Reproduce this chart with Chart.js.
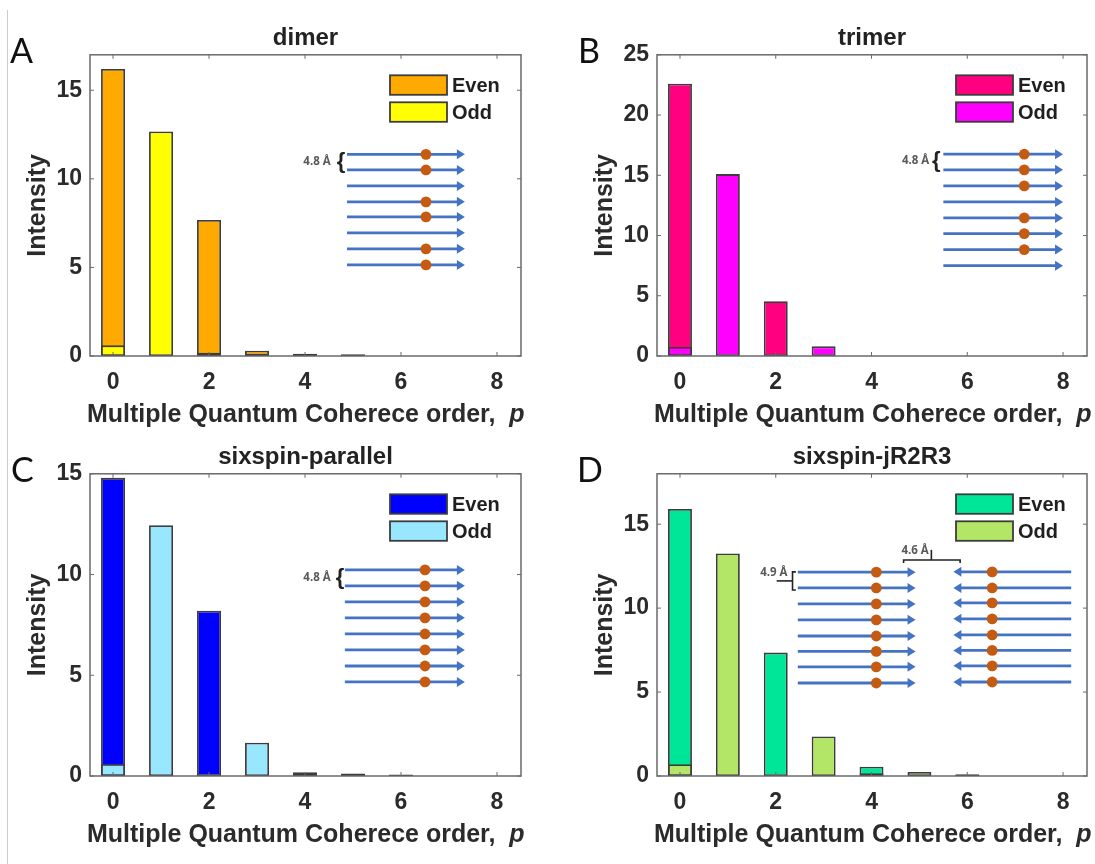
<!DOCTYPE html>
<html lang="en">

<head>
    <meta charset="UTF-8">
    <title>Multiple Quantum Coherence</title>
    <script src="https://cdn.jsdelivr.net/npm/chart.js"></script>
    <style>
        body { margin: 0; background: #fff; }
        #page { position: relative; width: 1095px; height: 864px; overflow: hidden; }
        #regua { position: absolute; left: 7px; top: 10px; width: 1px; bottom: 0; background: #ccc; }
        canvas { position: absolute; }
    </style>
</head>

<body>
    <div id="page">
        <div id="regua"></div>
        <canvas id="chartA" width="547" height="432" style="left:0;top:0"></canvas>
        <canvas id="chartB" width="548" height="432" style="left:547px;top:0"></canvas>
        <canvas id="chartC" width="547" height="433" style="left:0;top:419px"></canvas>
        <canvas id="chartD" width="548" height="433" style="left:547px;top:419px"></canvas>
    </div>

<script>
    // leitura dos valores
    const pOrders = [0, 1, 2, 3, 4, 5, 6, 7, 8];
    const xTicks = [0, 2, 4, 6, 8];

    const evenA = [16.2, null, 7.68, 0.3, 0.12, 0.1, null, null, null];
    const oddA = [0.6, 12.67, 0.18, 0.12, 0.03, 0.04, null, null, null];
    const yTicksA = [0, 5, 10, 15];

    const evenB = [22.6, null, 4.55, null, null, null, null, null, null];
    const oddB = [0.75, 15.1, 0.12, 0.8, null, null, null, null, null];
    const yTicksB = [0, 5, 10, 15, 20, 25];

    const evenC = [14.8, null, 8.2, null, 0.18, null, 0.08, null, null];
    const oddC = [0.6, 12.45, 0.02, 1.65, 0.1, 0.13, 0.02, null, null];
    const yTicksC = [0, 5, 10, 15];

    const evenD = [15.9, null, 7.35, null, 0.55, null, 0.11, null, null];
    const oddD = [0.7, 13.25, 0.03, 2.35, 0.17, 0.24, 0.02, null, null];
    const yTicksD = [0, 5, 10, 15];

    const corTexto = '#2b2b2b';
    const corBorda = '#3c3c3c';
    const corMoldura = '#6a6a6a';
    const corSeta = '#4472c4';
    const corPonto = '#c55a11';
    const tituloX = 'Multiple Quantum Coherece order,';

    function ponto(ctx, x, y) {
        ctx.fillStyle = corPonto;
        ctx.beginPath();
        ctx.arc(x, y, 5.4, 0, Math.PI * 2);
        ctx.fill();
    }

    function seta(ctx, x1, x2, y) {
        const dir = x2 > x1 ? 1 : -1;
        ctx.strokeStyle = corSeta;
        ctx.fillStyle = corSeta;
        ctx.lineWidth = 2.8;
        ctx.beginPath();
        ctx.moveTo(x1, y);
        ctx.lineTo(x2 - dir * 6, y);
        ctx.stroke();
        ctx.beginPath();
        ctx.moveTo(x2, y);
        ctx.lineTo(x2 - dir * 8, y - 5);
        ctx.lineTo(x2 - dir * 8, y + 5);
        ctx.closePath();
        ctx.fill();
    }

    // desenha o esquema das fitas usando as escalas do gráfico
    function desenharFitas(chart, fitas) {
        const ctx = chart.ctx;
        const sx = chart.scales.x;
        const sy = chart.scales.y;
        fitas.forEach((f) => {
            f.ys.forEach((v, i) => {
                const y = sy.getPixelForValue(v);
                seta(ctx, sx.getPixelForValue(f.de), sx.getPixelForValue(f.ate), y);
                if (f.pontos.includes(i)) {
                    ponto(ctx, sx.getPixelForValue(f.px), y);
                }
            });
        });
    }

    function rotulo(ctx, texto, x, y, fonte, cor) {
        ctx.font = fonte;
        ctx.fillStyle = cor;
        ctx.textAlign = 'center';
        ctx.textBaseline = 'middle';
        ctx.fillText(texto, x, y);
    }

    const painelPlugin = {
        id: 'painel',
        afterDatasetsDraw(chart, args, opts) {
            const ctx = chart.ctx;
            const a = chart.chartArea;
            const sx = chart.scales.x;
            const sy = chart.scales.y;
            ctx.save();

            // moldura e marcas para dentro (estilo matlab)
            ctx.strokeStyle = corMoldura;
            ctx.lineWidth = 1.5;
            ctx.strokeRect(a.left, a.top, a.right - a.left, a.bottom - a.top);
            ctx.lineWidth = 1;
            ctx.beginPath();
            xTicks.forEach((v) => {
                const x = sx.getPixelForValue(v);
                ctx.moveTo(x, a.bottom);
                ctx.lineTo(x, a.bottom - 4);
                ctx.moveTo(x, a.top);
                ctx.lineTo(x, a.top + 4);
            });
            opts.yTicks.forEach((v) => {
                const y = sy.getPixelForValue(v);
                ctx.moveTo(a.left, y);
                ctx.lineTo(a.left + 4, y);
                ctx.moveTo(a.right, y);
                ctx.lineTo(a.right - 4, y);
            });
            ctx.stroke();

            // legenda
            chart.data.datasets.forEach((ds, i) => {
                const topo = a.top + 20.5 + i * 27;
                const esq = a.right - 131;
                ctx.fillStyle = ds.backgroundColor;
                ctx.strokeStyle = corBorda;
                ctx.lineWidth = 1.8;
                ctx.fillRect(esq, topo, 57, 19.5);
                ctx.strokeRect(esq, topo, 57, 19.5);
                ctx.font = 'bold 20px "Liberation Sans"';
                ctx.fillStyle = '#1f1f1f';
                ctx.textAlign = 'left';
                ctx.textBaseline = 'middle';
                ctx.fillText(ds.label, esq + 62, topo + 11);
            });

            desenharFitas(chart, opts.fitas);

            // distâncias
            const fonteA = 'bold 11.5px "Open Sans"';
            opts.marcas.forEach((m) => {
                rotulo(ctx, m.texto, sx.getPixelForValue(m.x), sy.getPixelForValue(m.y), fonteA, '#595959');
            });
            if (opts.chave) {
                rotulo(ctx, '{', sx.getPixelForValue(opts.chave.x), sy.getPixelForValue(opts.chave.y), 'bold 22px "Liberation Sans"', '#222');
            }
            if (opts.linhas) {
                ctx.strokeStyle = '#222';
                ctx.lineWidth = 1.6;
                opts.linhas.forEach((l) => {
                    ctx.beginPath();
                    l.forEach((p, i) => {
                        const x = sx.getPixelForValue(p[0]);
                        const y = sy.getPixelForValue(p[1]);
                        if (i == 0) ctx.moveTo(x, y); else ctx.lineTo(x, y);
                    });
                    ctx.stroke();
                });
            }

            // letra do painel
            ctx.font = '34px Lato';
            ctx.fillStyle = '#111';
            ctx.textAlign = 'left';
            ctx.textBaseline = 'alphabetic';
            ctx.fillText(opts.letra, opts.letraX, 63);

            // título do eixo x, com o p em itálico
            ctx.fillStyle = corTexto;
            ctx.font = 'bold 25px "Liberation Sans"';
            const y = a.bottom + 66;
            ctx.fillText(tituloX, a.left - 3, y);
            const w = ctx.measureText(tituloX + '  ').width;
            ctx.font = 'italic bold 25px "Liberation Sans"';
            ctx.fillText('p', a.left - 3 + w, y);

            ctx.restore();
        }
    };

    function criarGrafico(id, titulo, even, odd, corEven, corOdd, yMax, yTicks, padEsq, padDir, extras) {
        return new Chart(document.getElementById(id), {
            type: 'bar',
            data: {
                datasets: [
                    {
                        label: 'Even',
                        order: 2,
                        data: pOrders.map((p, i) => ({ x: p, y: even[i] })),
                        backgroundColor: corEven,
                        borderColor: corBorda,
                        borderWidth: 1.8,
                        borderSkipped: false,
                        grouped: false,
                        categoryPercentage: 1,
                        barPercentage: 0.5
                    },
                    {
                        label: 'Odd',
                        order: 1,
                        data: pOrders.map((p, i) => ({ x: p, y: odd[i] })),
                        backgroundColor: corOdd,
                        borderColor: corBorda,
                        borderWidth: 1.8,
                        borderSkipped: false,
                        grouped: false,
                        categoryPercentage: 1,
                        barPercentage: 0.5
                    }
                ]
            },
            options: {
                responsive: false,
                animation: false,
                layout: { padding: { left: padEsq, right: padDir, top: 0, bottom: 0 } },
                plugins: {
                    legend: { display: false },
                    tooltip: { enabled: false },
                    title: {
                        display: true,
                        text: titulo,
                        fullSize: false,
                        color: '#222',
                        font: { family: '"Liberation Sans"', size: 24, weight: 'bold' },
                        padding: { top: 24, bottom: 2 }
                    },
                    painel: Object.assign({ yTicks: yTicks }, extras)
                },
                scales: {
                    x: {
                        type: 'linear',
                        min: -0.48,
                        max: 8.5,
                        offset: false,
                        afterBuildTicks: (s) => { s.ticks = xTicks.map((v) => ({ value: v })); },
                        afterFit: (s) => { s.height = 76; },
                        grid: { display: false, drawTicks: false, offset: false },
                        border: { display: false },
                        ticks: {
                            color: corTexto,
                            maxRotation: 0,
                            padding: 13,
                            font: { family: '"Liberation Sans"', size: 23, weight: 'bold' }
                        }
                    },
                    y: {
                        min: 0,
                        max: yMax,
                        afterBuildTicks: (s) => { s.ticks = yTicks.map((v) => ({ value: v })); },
                        afterFit: (s) => { s.width = 80; },
                        grid: { display: false, drawTicks: false },
                        border: { display: false },
                        ticks: {
                            color: corTexto,
                            padding: 8,
                            font: { family: '"Liberation Sans"', size: 23, weight: 'bold' }
                        },
                        title: {
                            display: true,
                            text: 'Intensity',
                            color: corTexto,
                            padding: { top: 13, bottom: 0 },
                            font: { family: '"Liberation Sans"', size: 25, weight: 'bold' }
                        }
                    }
                }
            },
            plugins: [painelPlugin]
        });
    }

    // esquemas das fitas, em unidades dos eixos
    const chartA = criarGrafico('chartA', 'dimer', evenA, oddA, '#ffaa00', '#ffff00', 17, yTicksA, 10, 26, {
        letra: 'A', letraX: 10,
        fitas: [{ de: 4.875, ate: 7.33, px: 6.52, pontos: [0, 1, 3, 4, 6, 7], ys: [11.38, 10.5, 9.6, 8.7, 7.85, 6.95, 6.05, 5.14] }],
        marcas: [{ texto: '4.8 Å', x: 4.25, y: 10.96 }],
        chave: { x: 4.75, y: 10.96 }
    });

    const chartB = criarGrafico('chartB', 'trimer', evenB, oddB, '#ff0080', '#ff00ff', 25, yTicksB, 30, 8, {
        letra: 'B', letraX: 31,
        fitas: [{ de: 5.5, ate: 8.0, px: 7.19, pontos: [0, 1, 2, 4, 5, 6], ys: [16.75, 15.45, 14.12, 12.79, 11.46, 10.16, 8.83, 7.5] }],
        marcas: [{ texto: '4.8 Å', x: 4.92, y: 16.2 }],
        chave: { x: 5.35, y: 16.2 }
    });

    const chartC = criarGrafico('chartC', 'sixspin-parallel', evenC, oddC, '#0000ff', '#99e6ff', 15, yTicksC, 10, 26, {
        letra: 'C', letraX: 11,
        fitas: [{ de: 4.83, ate: 7.33, px: 6.5, pontos: [0, 1, 2, 3, 4, 5, 6, 7], ys: [10.23, 9.44, 8.64, 7.85, 7.05, 6.26, 5.46, 4.67] }],
        marcas: [{ texto: '4.8 Å', x: 4.25, y: 9.84 }],
        chave: { x: 4.73, y: 9.84 }
    });

    const chartD = criarGrafico('chartD', 'sixspin-jR2R3', evenD, oddD, '#00e699', '#b3e666', 18, yTicksD, 30, 8, {
        letra: 'D', letraX: 30,
        fitas: [
            { de: 2.46, ate: 4.92, px: 4.1, pontos: [0, 1, 2, 3, 4, 5, 6, 7], ys: [12.14, 11.2, 10.25, 9.3, 8.34, 7.42, 6.5, 5.54] },
            { de: 8.17, ate: 5.71, px: 6.52, pontos: [0, 1, 2, 3, 4, 5, 6, 7], ys: [12.16, 11.2, 10.31, 9.36, 8.4, 7.48, 6.56, 5.6] }
        ],
        marcas: [{ texto: '4.6 Å', x: 4.91, y: 13.43 }, { texto: '4.9 Å', x: 1.96, y: 12.1 }],
        linhas: [
            [[4.67, 12.69], [4.67, 12.87], [5.85, 12.87], [5.85, 12.69]],
            [[5.25, 13.47], [5.25, 12.87]],
            [[2.42, 12.16], [2.35, 12.16], [2.35, 11.08], [2.42, 11.08]],
            [[2.02, 11.62], [2.35, 11.62]]
        ]
    });
</script>
</body>

</html>
